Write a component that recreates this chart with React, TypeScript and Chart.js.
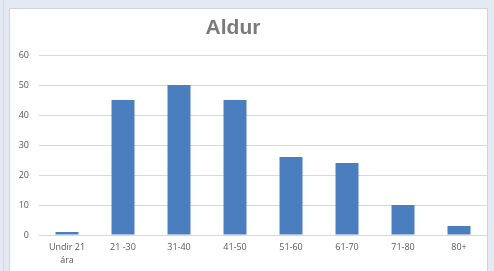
import React, { useEffect, useRef } from "react";
import { Chart, registerables } from "chart.js";

Chart.register(...registerables);

const chartTitle = "Aldur";
const categories: (string | string[])[] = [
  ["Undir 21", "ára"],
  "21 -30",
  "31-40",
  "41-50",
  "51-60",
  "61-70",
  "71-80",
  "80+",
];
const values = [1, 45, 50, 45, 26, 24, 10, 3];
const yMin = 0;
const yMax = 60;
const yStep = 10;

const titlePlugin = {
  id: "customTitle",
  afterDraw(chart: any) {
    const ctx = chart.ctx;
    ctx.save();
    ctx.font = "bold 21px 'Liberation Sans', Arial, sans-serif";
    ctx.fillStyle = "#7a7a7a";
    ctx.textAlign = "center";
    ctx.textBaseline = "middle";
    ctx.fillText(chartTitle, 223, 19);
    ctx.restore();
  },
};

export default function App() {
  const ref = useRef<HTMLCanvasElement | null>(null);
  useEffect(() => {
    if (!ref.current) return;
    const chart = new Chart(ref.current, {
      type: "bar",
      data: {
        labels: categories,
        datasets: [
          {
            data: values,
            backgroundColor: "#4a7ebf",
            borderColor: "#4a7ebf",
            borderWidth: 0,
            categoryPercentage: 1,
            barPercentage: 0.41,
          },
        ],
      },
      options: {
        animation: false,
        responsive: false,
        maintainAspectRatio: false,
        layout: { padding: { top: 46, left: 0, right: 0, bottom: 0 } },
        plugins: {
          legend: { display: false },
          title: { display: false },
          tooltip: { enabled: false },
        },
        scales: {
          x: {
            grid: { display: false, drawTicks: false },
            border: { display: false },
            ticks: {
              color: "#595959",
              padding: 6,
              maxRotation: 0,
              autoSkip: false,
              font: { family: "'Open Sans', sans-serif", size: 9, lineHeight: 1.45 },
            },
            afterFit(scale: any) {
              scale.height = 36;
            },
          },
          y: {
            min: yMin,
            max: yMax,
            grid: { color: "#d9d9d9", lineWidth: 1, drawTicks: false },
            border: { display: false },
            ticks: {
              stepSize: yStep,
              color: "#595959",
              padding: 10,
              font: { family: "'Open Sans', sans-serif", size: 9 },
            },
            afterFit(scale: any) {
              scale.width = 29;
            },
          },
        },
      },
      plugins: [titlePlugin],
    });
    return () => chart.destroy();
  }, []);

  return (
    <div
      style={{
        position: "fixed",
        left: 0,
        top: 0,
        width: 494,
        height: 271,
        background: "#e4e9f3",
        overflow: "hidden",
      }}
    >
      <div
        style={{
          position: "absolute",
          left: 3,
          top: 0,
          width: 1,
          height: 271,
          background: "#d3d8e2",
        }}
      />
      <div
        style={{
          position: "absolute",
          left: 9,
          top: 8,
          width: 477,
          height: 270,
          background: "#ffffff",
          borderLeft: "1px solid #cfd3da",
          borderTop: "1px solid #cfd3da",
          borderRight: "1px solid #cfd3da",
        }}
      >
        <canvas ref={ref} width={477} height={262} style={{ display: "block" }} />
      </div>
    </div>
  );
}
